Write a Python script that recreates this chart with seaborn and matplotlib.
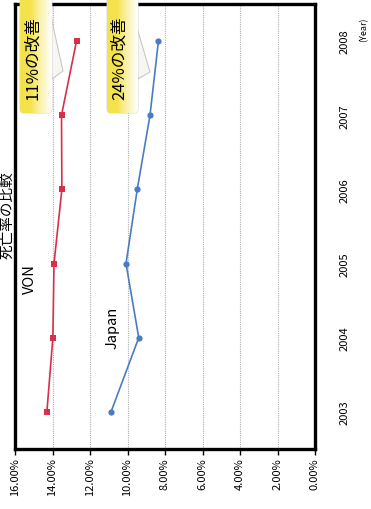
import numpy as np
import pandas as pd
import seaborn as sns
import matplotlib.pyplot as plt
from matplotlib.ticker import PercentFormatter
from matplotlib.patches import FancyBboxPatch, Polygon

YEARS = [2003, 2004, 2005, 2006, 2007, 2008]
VON_RATE = [0.1430, 0.1398, 0.1392, 0.1350, 0.1352, 0.1272]
JAPAN_RATE = [0.1088, 0.0940, 0.1008, 0.0948, 0.0880, 0.0835]
GROUPS = ["VON", "Japan"]
TITLE = "死亡率の比較"
CALLOUTS = ["11%の改善", "24%の改善"]
PCT_TICKS = [0.0, 0.02, 0.04, 0.06, 0.08, 0.10, 0.12, 0.14, 0.16]

RED = "#d8304a"
BLUE = "#4a7cc2"

sns.set_theme(style="white")
plt.rcParams['font.family'] = ['Noto Sans CJK JP', 'DejaVu Sans']

df = pd.concat([
    pd.DataFrame({"year": YEARS, "rate": VON_RATE, "group": GROUPS[0]}),
    pd.DataFrame({"year": YEARS, "rate": JAPAN_RATE, "group": GROUPS[1]}),
])

fig = plt.figure(figsize=(3.71, 5.10), dpi=100)
ax = fig.add_axes([15 / 371, 60 / 510, 300 / 371, 445 / 510])

sns.lineplot(ax=ax, data=df, x="rate", y="year", hue="group", style="group",
             palette={"VON": RED, "Japan": BLUE},
             markers={"VON": "s", "Japan": "o"}, dashes=False, sort=False,
             markersize=4.5, markeredgewidth=0, linewidth=1.2, legend=False)

ax.set_xlim(0.16, 0)
ax.set_ylim(2002.5, 2008.5)
ax.set_xticks(PCT_TICKS)
ax.xaxis.set_major_formatter(PercentFormatter(xmax=1, decimals=2))
ax.set_yticks(YEARS)
ax.yaxis.tick_right()
ax.tick_params(axis="x", labelrotation=90, labelsize=8, length=4, width=1,
               direction="out", bottom=True, pad=2, colors="black")
ax.tick_params(axis="y", labelrotation=90, labelsize=8, length=0, pad=18,
               labelcolor="black")
for lab in ax.get_yticklabels():
    lab.set_va("center")
ax.set_xlabel("")
ax.set_ylabel("")
ax.grid(axis="x", color="#b0b0b0", linestyle=(0, (1, 1)), linewidth=0.8)
for s in ax.spines.values():
    s.set_color("black")
    s.set_linewidth(2.4)

# labels for the series
ax.text(0.152, 2004.8, "VON", rotation=90, fontsize=10.5,
        ha="center", va="center", color="black")
ax.text(0.108, 2004.15, "Japan", rotation=90, fontsize=10.5,
        ha="center", va="center", color="black")

# overlay in pixel coordinates for title and callouts
ov = fig.add_axes([0, 0, 1, 1], zorder=5)
ov.set_xlim(0, 371)
ov.set_ylim(510, 0)
ov.axis("off")
ov.patch.set_alpha(0)

ov.text(7, 215, TITLE, rotation=90, fontsize=10.5, ha="center", va="center",
        color="black")
ov.text(364, 30, "(Year)", rotation=90, fontsize=6.5, ha="center", va="center",
        color="black")

grad = np.linspace(0, 1, 64)
yellow = np.array([0.96, 0.89, 0.30])
cols = np.array([yellow + (1 - yellow) * max(0, (g - 0.35) / 0.65) ** 0.8
                 for g in grad])[None, :, :]
boxes = [(20, 52, (63, 72), (52, 80), (48, 4)), (107, 138, (150, 73), (138, 80), (131, 8))]
for (x0, x1, tip, back, start), txt in zip(boxes, CALLOUTS):
    poly = Polygon([start, tip, back], closed=True, facecolor="#f7f7f2",
                   edgecolor="#c8c8c8", linewidth=0.8)
    ov.add_patch(poly)
    box = FancyBboxPatch((x0, -10), x1 - x0, 124, boxstyle="round,pad=0,rounding_size=4",
                         facecolor="none", edgecolor="#d0d0d0", linewidth=0.6)
    ov.add_patch(box)
    im = ov.imshow(cols, extent=[x0, x1, 114, -10], aspect="auto", zorder=1)
    im.set_clip_path(box)
    ov.text((x0 + x1) / 2 - 3, 58, txt, rotation=90, fontsize=12,
            ha="center", va="center", color="black", zorder=3)

ov.set_xlim(0, 371)
ov.set_ylim(510, 0)

fig.savefig("out.png", dpi=100)
